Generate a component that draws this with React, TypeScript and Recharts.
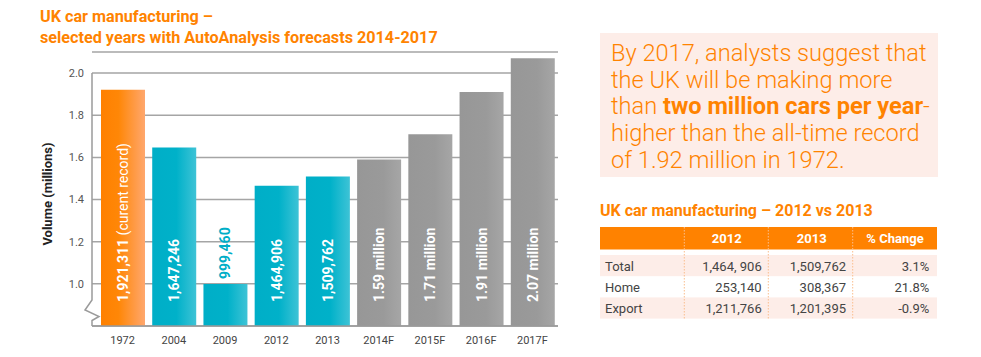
import React from "react";
import { Bar, BarChart, CartesianGrid, Cell, LabelList, ReferenceLine, XAxis, YAxis } from "recharts";

// chart values
const years = ["1972", "2004", "2009", "2012", "2013", "2014F", "2015F", "2016F", "2017F"];
const volumes = [1.921311, 1.647246, 0.99946, 1.464906, 1.509762, 1.59, 1.71, 1.91, 2.07];
const barLabels = ["1,921,311", "1,647,246", "999,460", "1,464,906", "1,509,762", "1.59 million", "1.71 million", "1.91 million", "2.07 million"];
const barNotes = ["(curent record)", "", "", "", "", "", "", "", ""];
const barKinds = ["record", "actual", "actual", "actual", "actual", "forecast", "forecast", "forecast", "forecast"];
const yTicks = [1.0, 1.2, 1.4, 1.6, 1.8, 2.0];

// side panel text
const titleLines = ["UK car manufacturing –", "selected years with AutoAnalysis forecasts 2014-2017"];
const tableTitle = "UK car manufacturing – 2012 vs 2013";
const tableCols = ["2012", "2013", "% Change"];
const tableRows = ["Total", "Home", "Export"];
const values2012 = ["1,464, 906", "253,140", "1,211,766"];
const values2013 = ["1,509,762", "308,367", "1,201,395"];
const pctChange = ["3.1%", "21.8%", "-0.9%"];

const data = years.map((year, i) => ({ year, volume: volumes[i], label: barLabels[i] }));

const FONT = "Roboto, 'Noto Sans', sans-serif";
const ORANGE = "#FF8300";
const BLUE = "#00AEC7";

const fills: Record<string, string> = {
  record: "url(#gradRecord)",
  actual: "url(#gradActual)",
  forecast: "url(#gradForecast)"
};

function renderBarLabel(props: any) {
  const { x, y, width, height, value, index } = props;
  const cx = Number(x) + Number(width) / 2;
  const outside = Number(height) < 70;
  const ty = outside ? Number(y) - 5 : Number(y) + Number(height) - 24;
  const note = barNotes[index] || "";
  return (
    <text
      x={cx}
      y={ty}
      transform={`rotate(-90, ${cx}, ${ty})`}
      textAnchor="start"
      dominantBaseline="central"
      fill={outside ? BLUE : "#fff"}
      fontFamily={FONT}
      fontSize={14}
      fontWeight={700}
    >
      {value}
      {note ? <tspan fontWeight={400}>{" " + note}</tspan> : null}
    </text>
  );
}

function AxisWithBreak(props: any) {
  const { x1, y1, y2 } = props;
  const bottom = Math.max(y1, y2);
  const top = Math.min(y1, y2);
  const d = `M${x1},${top} L${x1},${bottom - 26} L${x1 - 7},${bottom - 16} L${x1 + 7},${bottom - 9.5} L${x1},${bottom - 5.5} L${x1},${bottom}`;
  return <path d={d} fill="none" stroke="#9a9a9a" strokeWidth={1.5} />;
}

function YLabel(props: any) {
  const { viewBox } = props;
  const cx = viewBox.x + 47;
  const cy = viewBox.y + viewBox.height / 2 + 5;
  return (
    <text x={cx} y={cy} transform={`rotate(-90, ${cx}, ${cy})`} textAnchor="middle" dominantBaseline="central" fill="#222" fontFamily={FONT} fontSize={13} fontWeight={700}>
      Volume (millions)
    </text>
  );
}

function SidePanel() {
  const colX = [684.3, 768.3, 852.7];
  const rowTop = (i: number) => 255 + i * 21.2;
  return (
    <svg width={981} height={357} style={{ position: "absolute", left: 0, top: 0, pointerEvents: "none" }} fontFamily={FONT}>
      {titleLines.map((t, i) => (
        <text key={t} x={40} y={22 + i * 20.7} fill={ORANGE} fontSize={16.2} fontWeight={700}>
          {t}
        </text>
      ))}

      <rect x={600} y={33} width={338} height={144} fill="#FDEDE8" />
      <g fill={ORANGE} fontSize={23.6} fontWeight={300}>
        <text x={611} y={61}>By 2017, analysts suggest that</text>
        <text x={611} y={87.7}>the UK will be making more</text>
        <text x={611} y={114.4}>
          than <tspan fontWeight={700}>two million cars per year</tspan>-
        </text>
        <text x={611} y={141}>higher than the all-time record</text>
        <text x={611} y={167.7}>of 1.92 million in 1972.</text>
      </g>

      <text x={600} y={215.7} fill={ORANGE} fontSize={16} fontWeight={700}>
        {tableTitle}
      </text>
      <rect x={600} y={227} width={337} height={22.5} fill="#FF8200" />
      {[0, 2].map((i) => (
        <rect key={i} x={600} y={rowTop(i)} width={337} height={21.2} fill="#FDEDE8" />
      ))}
      {colX.map((cx) => (
        <line key={cx} x1={cx} x2={cx} y1={227} y2={318.6} stroke="#FBBE8E" strokeWidth={1} strokeDasharray="1.5 1.5" />
      ))}
      {tableCols.map((c, i) => (
        <text key={c} x={[726.7, 811.7, 895][i]} y={243.3} textAnchor="middle" fill="#fff" fontSize={13} fontWeight={700}>
          {c}
        </text>
      ))}
      <g fill="#444" fontSize={13}>
        {tableRows.map((r, i) => (
          <g key={r}>
            <text x={605} y={rowTop(i) + 16}>{r}</text>
            <text x={761.7} y={rowTop(i) + 16} textAnchor="end">{values2012[i]}</text>
            <text x={846} y={rowTop(i) + 16} textAnchor="end">{values2013[i]}</text>
            <text x={929.3} y={rowTop(i) + 16} textAnchor="end">{pctChange[i]}</text>
          </g>
        ))}
      </g>
    </svg>
  );
}

export default function App() {
  return (
    <div style={{ position: "absolute", left: 0, top: 0, width: 981, height: 357, background: "#fff", fontFamily: FONT }}>
      <BarChart width={600} height={357} data={data} margin={{ top: 52, right: 42, bottom: 0, left: 0 }} barSize={44}>
        <defs>
          <linearGradient id="gradRecord" x1="0" y1="0" x2="1" y2="0">
            <stop offset="0%" stopColor="#FF8000" />
            <stop offset="40%" stopColor="#FF8707" />
            <stop offset="100%" stopColor="#FFA76E" />
          </linearGradient>
          <linearGradient id="gradActual" x1="0" y1="0" x2="1" y2="0">
            <stop offset="0%" stopColor="#00AEC7" />
            <stop offset="55%" stopColor="#00B1C9" />
            <stop offset="100%" stopColor="#3EC3D6" />
          </linearGradient>
          <linearGradient id="gradForecast" x1="0" y1="0" x2="1" y2="0">
            <stop offset="0%" stopColor="#979797" />
            <stop offset="60%" stopColor="#9A9A9A" />
            <stop offset="100%" stopColor="#A6A6A6" />
          </linearGradient>
        </defs>
        <CartesianGrid vertical={false} stroke="#a5a5a5" strokeWidth={1.5} />
        <XAxis
          dataKey="year"
          height={31}
          interval={0}
          tickLine={false}
          tickSize={0}
          tickMargin={10}
          padding={{ left: 5, right: 0 }}
          axisLine={{ stroke: "#9a9a9a", strokeWidth: 1.5 }}
          tick={{ fill: "#444", fontSize: 11, fontFamily: FONT }}
        />
        <XAxis xAxisId="edge" type="number" domain={[0, 1]} hide />
        <YAxis
          type="number"
          width={92}
          domain={[0.8, 2.1]}
          ticks={yTicks}
          interval={0}
          axisLine={false}
          tickLine={false}
          tickSize={0}
          tickMargin={8}
          tickFormatter={(v) => Number(v).toFixed(1)}
          tick={{ fill: "#555", fontSize: 11, fontFamily: FONT }}
          label={<YLabel />}
        />
        <ReferenceLine xAxisId="edge" segment={[{ x: 0, y: 0.8 }, { x: 0, y: 2.0 }]} shape={<AxisWithBreak />} />
        <Bar dataKey="volume" isAnimationActive={false}>
          {data.map((d, i) => (
            <Cell key={d.year} fill={fills[barKinds[i]]} />
          ))}
          <LabelList dataKey="label" content={renderBarLabel} />
        </Bar>
      </BarChart>
      <SidePanel />
    </div>
  );
}
